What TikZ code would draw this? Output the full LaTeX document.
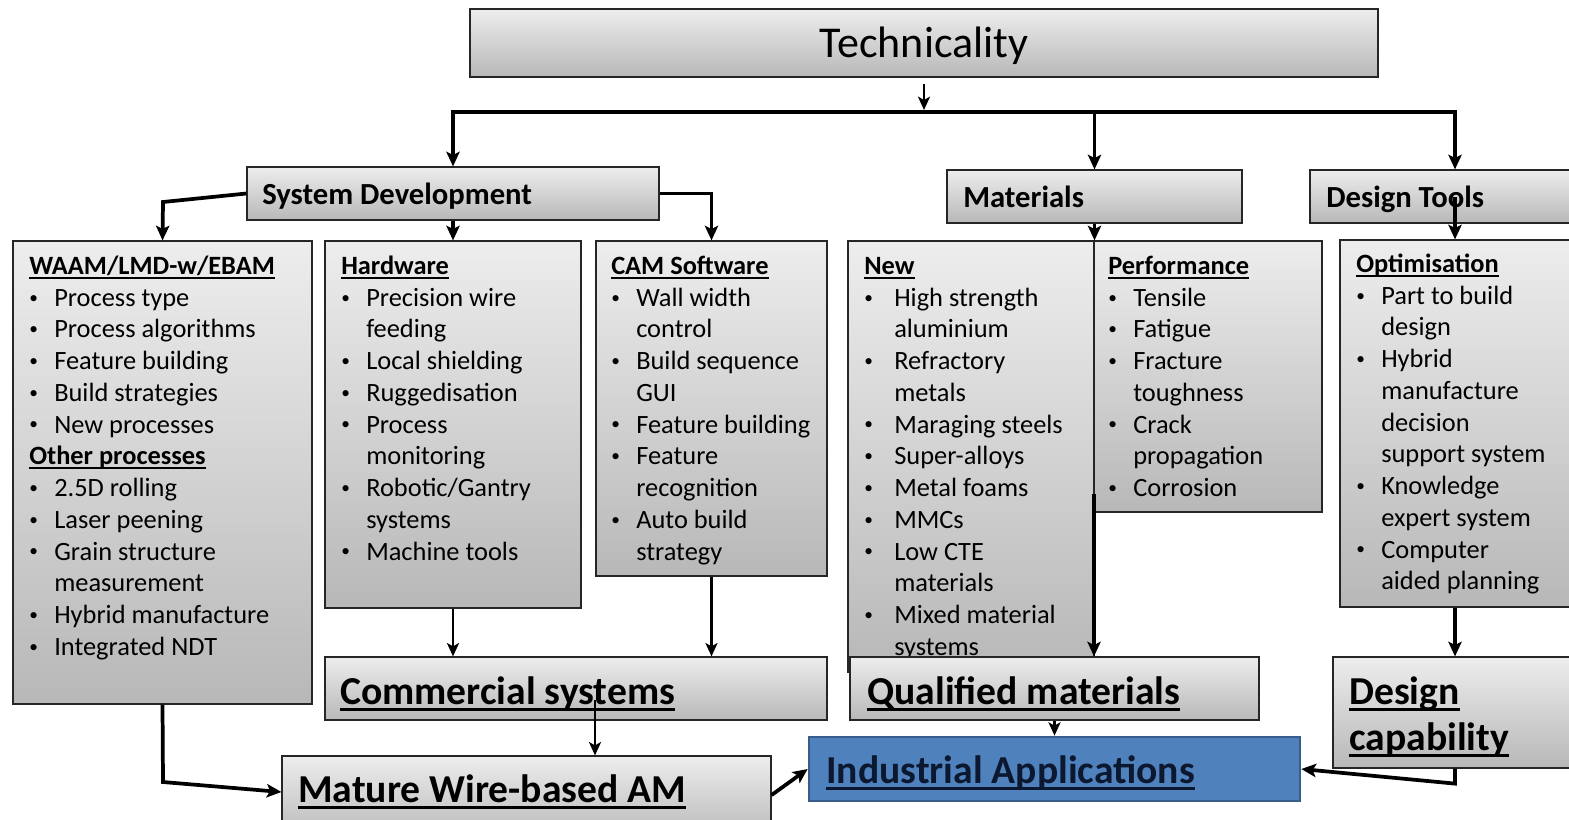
\documentclass[tikz,border=0pt]{standalone}
\usepackage{fontspec}
\setmainfont{Carlito}
\usetikzlibrary{arrows.meta,fit,calc}

% underline whose thickness follows the font size
\newcommand\hdl[1]{\setbox0\hbox{#1}\rlap{\rule[-0.17em]{\wd0}{0.075em}}\box0}
\newcommand\bodyfont{\fontsize{19.8}{23.8}\selectfont}
\newcommand\bi{\raisebox{0.12em}{\fontsize{13}{13}\selectfont\textbullet}}
\newcommand\hd[1]{\multicolumn{2}{@{}l@{}}{\textbf{\hdl{#1}}}}
\newenvironment{blist}{\begin{tabular}{@{}p{18.75pt}@{}l@{}}}{\end{tabular}}

\tikzset{
  box/.style={draw=black!85, line width=0.9pt, top color=black!7, bottom color=black!28, inner sep=0pt},
  bluebox/.style={draw={rgb,255:red,56;green,93;blue,138}, line width=2pt,
    fill={rgb,255:red,79;green,129;blue,189}, inner sep=0pt},
  listtext/.style={anchor=north west, inner sep=0pt, font=\bodyfont},
  head/.style={anchor=base west, inner sep=0pt, font=\fontsize{23}{27}\selectfont\bfseries},
  big/.style={anchor=base west, inner sep=0pt, font=\fontsize{29.7}{34.5}\selectfont\bfseries},
  tip/.style={Stealth[length=11pt,width=10pt,inset=2.5pt]},
  link/.style={line width=2.8pt, -{Stealth[length=11pt,width=10pt,inset=2.5pt]}},
  thin link/.style={line width=2.2pt, -{Stealth[length=10pt,width=9pt,inset=2.5pt]}},
  bus/.style={line width=3.5pt, {Stealth[length=11pt,width=10pt,inset=2.5pt]}-{Stealth[length=11pt,width=10pt,inset=2.5pt]}},
}

\begin{document}
\begin{tikzpicture}[x=0.75pt,y=-0.75pt]
\useasboundingbox (0,0) rectangle (1569,819);
\clip (0,0) rectangle (1569,819);

% ---------- boxes ----------
\node[box, fit={(470,9) (1378,77)}] (tech) {};
\node[font=\fontsize{33}{38}\selectfont, inner sep=0pt] (techt) at (924,46) {Technicality};
\node[box, fit={(247,167) (659,220)}] (sd) {};
\node[box, fit={(947,170) (1242,223)}] (mat) {};
\node[box, fit={(1310,170) (1590,223)}] (dt) {};

\node[box, fit={(13,241) (312,704)}] (waam) {};
\node[box, fit={(325,241) (581,608)}] (hw) {};
\node[box, fit={(596,241) (827,576)}] (cam) {};
\node[box, fit={(848,241) (1094,672)}] (new) {};
\node[box, fit={(1094,241) (1322,512)}] (perf) {};
\node[box, fit={(1340,240) (1590,607)}] (opt) {};

% ---------- titles ----------
\node[head] (sdt) at (262,204) {System Development};
\node[head] (matt) at (963,207) {Materials};
\node[head] (dtt) at (1326,207) {Design Tools};

% ---------- lists ----------
\node[listtext] (waamtx) at (29,252) {\begin{blist}
\hd{WAAM/LMD-w/EBAM}\\
\bi & Process type\\
\bi & Process algorithms\\
\bi & Feature building\\
\bi & Build strategies\\
\bi & New processes\\
\hd{Other processes}\\
\bi & 2.5D rolling\\
\bi & Laser peening\\
\bi & Grain structure\\
    & measurement\\
\bi & Hybrid manufacture\\
\bi & Integrated NDT
\end{blist}};

\node[listtext] (hwtx) at (341,252) {\begin{blist}
\hd{Hardware}\\
\bi & Precision wire\\
    & feeding\\
\bi & Local shielding\\
\bi & Ruggedisation\\
\bi & Process\\
    & monitoring\\
\bi & Robotic/Gantry\\
    & systems\\
\bi & Machine tools
\end{blist}};

\node[listtext] (camtx) at (611,252) {\begin{blist}
\hd{CAM Software}\\
\bi & Wall width\\
    & control\\
\bi & Build sequence\\
    & GUI\\
\bi & Feature building\\
\bi & Feature\\
    & recognition\\
\bi & Auto build\\
    & strategy
\end{blist}};

\node[listtext] (newtx) at (864,252) {\begin{tabular}{@{}p{22.5pt}@{}l@{}}
\hd{New}\\
\bi & High strength\\
    & aluminium\\
\bi & Refractory\\
    & metals\\
\bi & Maraging steels\\
\bi & Super-alloys\\
\bi & Metal foams\\
\bi & MMCs\\
\bi & Low CTE\\
    & materials\\
\bi & Mixed material\\
    & systems
\end{tabular}};

\node[listtext] (perftx) at (1108,252) {\begin{blist}
\hd{Performance}\\
\bi & Tensile\\
\bi & Fatigue\\
\bi & Fracture\\
    & toughness\\
\bi & Crack\\
    & propagation\\
\bi & Corrosion
\end{blist}};

\node[listtext] (opttx) at (1356,250) {\begin{blist}
\hd{Optimisation}\\
\bi & Part to build\\
    & design\\
\bi & Hybrid\\
    & manufacture\\
    & decision\\
    & support system\\
\bi & Knowledge\\
    & expert system\\
\bi & Computer\\
    & aided planning
\end{blist}};

% ---------- outcome boxes ----------
\node[box, fit={(325,657) (827,720)}] (com) {};
\node[box, fit={(850,657) (1259,720)}] (qual) {};
\node[box, fit={(1333,657) (1590,768)}] (dcap) {};
\node[box, fit={(282,756) (771,840)}] (mature) {};
\node[bluebox, fit={(809,737) (1300,801)}] (ind) {};

\node[big] (comt) at (340,704) {\hdl{Commercial systems}};
\node[big] (qualt) at (867,704) {\hdl{Qualified materials}};
\node[big, align=left] (dcapt) at (1349,750) {\hdl{Design}\\\hdl{capability}};
\node[big] (maturet) at (298,802) {\hdl{Mature Wire-based AM}};
\node[big, text={rgb,255:red,12;green,24;blue,48}] (indt) at (826,783) {\hdl{Industrial Applications}};

% ---------- connectors ----------
\coordinate (busL) at (453,112);
\coordinate (busR) at (1455,112);
\coordinate (busM) at (924,110);
\coordinate (techOut) at (924,84);
\coordinate (sdL) at (163,202);
\coordinate (dtIn) at (1455,197);
\coordinate (newIn) at (1094,494);
\coordinate (comIn) at (595,700);
\coordinate (waamTurn) at (163,782);

\draw[thin link] (techOut) -- (busM);
\draw[bus] (sd.north) -- (busL) -- (busR) -- (busR |- dt.north);
\draw[link] (mat.north |- busL) -- (mat.north);

\draw[link] (sd.west) -- (sdL) -- (waam.north);
\draw[link] (sd.south) -- (hw.north);
\draw[link] (sd.east) -| (cam.north);
\draw[link] (mat.south) -- (mat.south |- new.north);
\draw[link] (dtIn) -- (dtIn |- opt.north);

\draw[thin link] (hw.south) -- (hw.south |- com.north);
\draw[thin link] (cam.south) -- (cam.south |- com.north);
\draw[link] (newIn) -- (newIn |- qual.north);
\draw[link] (dtIn |- opt.south) -- (dtIn |- dcap.north);

\draw[thin link] (comIn) -- (comIn |- mature.north);
\draw[thin link] (qual.south) -- (ind.north);
\draw[link] (waam.south) -- (waamTurn) -- ($(mature.west)+(0,-6)$);
\draw[link] ($(mature.east)+(0,-3)$) -- (ind.west);
\draw[link] (dcap.south -| dtIn) -- ++(0,15) -- (ind.east);
\end{tikzpicture}
\end{document}
